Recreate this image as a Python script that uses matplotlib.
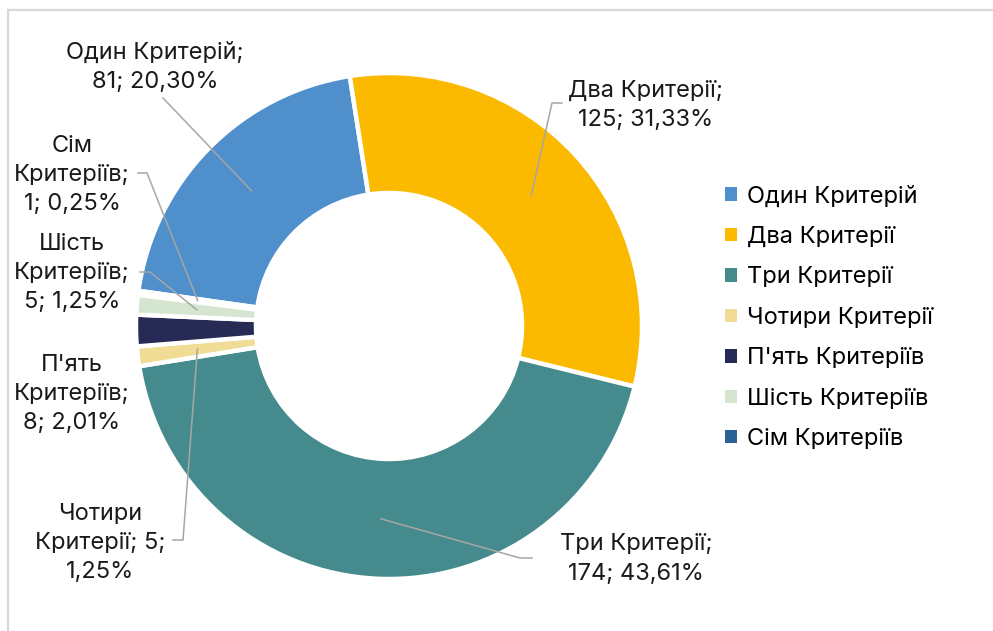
import numpy as np
import matplotlib.pyplot as plt
from matplotlib.patches import Patch
from matplotlib.lines import Line2D

plt.rcParams["font.family"] = ["Inter", "DejaVu Sans"]

# data
names = ["Один Критерій", "Два Критерії", "Три Критерії", "Чотири Критерії",
         "П'ять Критеріїв", "Шість Критеріїв", "Сім Критеріїв"]
counts = [81, 125, 174, 5, 8, 5, 1]
colors = ["#4F8FCB", "#FBBA00", "#458B8E", "#F0DC94", "#262A55", "#D4E6D0", "#2B6296"]

total = sum(counts)
pcts = [f"{100 * c / total:.2f}%".replace(".", ",") for c in counts]

W, H = 993, 631
fig = plt.figure(figsize=(W / 100, H / 100), dpi=100)
ax = fig.add_axes([0, 0, 1, 1])


def px(x, y):
    # picture pixels (origin top-left) -> data coords
    return x, H - y


cx, cy = px(389, 326)
wedges, _ = ax.pie(
    counts,
    colors=colors,
    startangle=172,
    counterclock=False,
    center=(cx, cy),
    radius=253,
    explode=[0.01] * len(counts),
    wedgeprops=dict(width=120, edgecolor="white", linewidth=3.2),
    frame=True,
)
ax.set_xlim(0, W)
ax.set_ylim(0, H)
ax.set_aspect("equal")
ax.axis("off")

# label text, line breaks as in the original
w = [n.split(" ") for n in names]
label_txt = [
    f"{names[0]};\n{counts[0]}; {pcts[0]}",
    f"{names[1]};\n{counts[1]}; {pcts[1]}",
    f"{names[2]};\n{counts[2]}; {pcts[2]}",
    f"{w[3][0]}\n{w[3][1]}; {counts[3]};\n{pcts[3]}",
    f"{w[4][0]}\n{w[4][1]};\n{counts[4]}; {pcts[4]}",
    f"{w[5][0]}\n{w[5][1]};\n{counts[5]}; {pcts[5]}",
    f"{w[6][0]}\n{w[6][1]};\n{counts[6]}; {pcts[6]}",
]
label_pos = [(155, 67), (646, 105), (636, 559), (100, 543), (72, 394), (72, 273), (72, 175)]
# leader line start points (near label), None = no leader
leader_start = [
    [(163, 98)],
    [(562, 103), (552, 103)],
    [(532, 558), (520, 558)],
    [(173, 540), (183, 540)],
    None,
    [(140, 272), (150, 272)],
    [(138, 173), (147, 173)],
]

fs = 17
for i, wd in enumerate(wedges):
    x, y = px(*label_pos[i])
    ax.text(x, y, label_txt[i], ha="center", va="center", fontsize=fs,
            color="#1A1A1A", linespacing=1.42)
    if leader_start[i] is None:
        continue
    mid = np.deg2rad((wd.theta1 + wd.theta2) / 2)
    rm = wd.r - wd.width / 2
    ex = wd.center[0] + rm * np.cos(mid)
    ey = wd.center[1] + rm * np.sin(mid)
    pts = [px(*p) for p in leader_start[i]] + [(ex, ey)]
    ax.plot([p[0] for p in pts], [p[1] for p in pts], color="#A6A6A6", lw=1.1,
            solid_joinstyle="miter")

handles = [Patch(facecolor=c, edgecolor="none") for c in colors]
ax.legend(handles, names, loc="upper left", bbox_to_anchor=(716 / W, 1 - 176 / H),
          frameon=False, fontsize=fs, handlelength=0.5, handleheight=0.5,
          handletextpad=0.4, labelspacing=0.78, borderaxespad=0)

# chart frame
fig.add_artist(Line2D([8 / W, 8 / W], [0, 1 - 10 / H], color="#D9D9D9", lw=1.6,
                      transform=fig.transFigure))
fig.add_artist(Line2D([8 / W, 1], [1 - 10 / H, 1 - 10 / H], color="#D9D9D9", lw=1.6,
                      transform=fig.transFigure))

fig.savefig("out.png", dpi=100, facecolor="white")
